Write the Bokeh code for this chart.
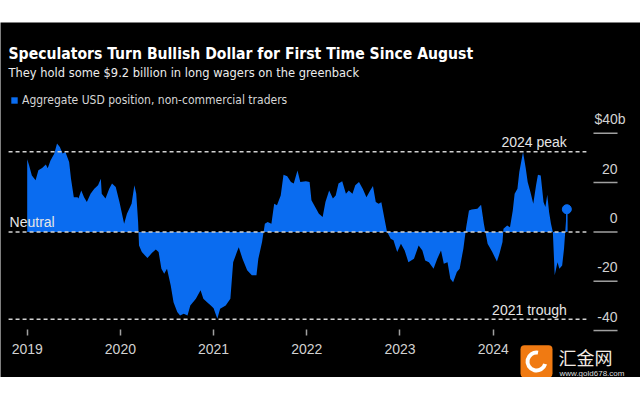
from bokeh.plotting import figure
from bokeh.models import (Range1d, Label, FixedTicker, BoxAnnotation, Spacer,
                          Legend, LegendItem)
from bokeh.layouts import column
from bokeh.core.properties import value
from bokeh.embed import file_html
from bokeh.resources import INLINE

# ---------------- data ----------------
dates = [
    2019.00, 2019.02, 2019.05, 2019.09, 2019.12, 2019.16, 2019.20, 2019.22, 2019.25, 2019.29,
    2019.32, 2019.35, 2019.38, 2019.41, 2019.45, 2019.47, 2019.50, 2019.54, 2019.55, 2019.58,
    2019.61, 2019.64, 2019.68, 2019.72, 2019.76, 2019.79, 2019.80, 2019.84, 2019.88, 2019.91,
    2019.95, 2019.99, 2020.04, 2020.07, 2020.12, 2020.15, 2020.17, 2020.19, 2020.20, 2020.23,
    2020.29, 2020.34, 2020.38, 2020.41, 2020.44, 2020.47, 2020.50, 2020.54, 2020.57, 2020.61,
    2020.64, 2020.68, 2020.72, 2020.75, 2020.81, 2020.86, 2020.89, 2020.93, 2020.97, 2021.00,
    2021.04, 2021.07, 2021.13, 2021.18, 2021.21, 2021.25, 2021.27, 2021.31, 2021.36, 2021.41,
    2021.46, 2021.48, 2021.52, 2021.55, 2021.58, 2021.62, 2021.65, 2021.68, 2021.72, 2021.75,
    2021.79, 2021.83, 2021.86, 2021.90, 2021.93, 2021.99, 2022.03, 2022.05, 2022.09, 2022.13,
    2022.17, 2022.20, 2022.24, 2022.28, 2022.31, 2022.34, 2022.38, 2022.42, 2022.45, 2022.49,
    2022.52, 2022.56, 2022.60, 2022.64, 2022.68, 2022.71, 2022.74, 2022.77, 2022.80, 2022.83,
    2022.86, 2022.90, 2022.93, 2022.97, 2023.01, 2023.05, 2023.09, 2023.15, 2023.20, 2023.24,
    2023.27, 2023.31, 2023.36, 2023.40, 2023.44, 2023.47, 2023.51, 2023.54, 2023.57, 2023.61,
    2023.64, 2023.68, 2023.71, 2023.74, 2023.77, 2023.83, 2023.87, 2023.90, 2023.94, 2023.99,
    2024.04, 2024.07, 2024.10, 2024.11, 2024.15, 2024.18, 2024.21, 2024.23, 2024.26, 2024.28,
    2024.32, 2024.35, 2024.37, 2024.40, 2024.43, 2024.46, 2024.48, 2024.51, 2024.54, 2024.56,
    2024.58, 2024.60, 2024.62, 2024.64, 2024.66, 2024.69, 2024.71, 2024.74, 2024.76, 2024.79,
]
usd_position = [
    29.5, 27.0, 22.9, 20.9, 25.0, 25.9, 27.3, 25.8, 29.0, 31.7,
    35.8, 34.4, 31.8, 32.4, 28.3, 21.6, 14.1, 14.1, 13.5, 16.8,
    14.1, 12.1, 15.5, 17.5, 18.9, 21.6, 15.5, 13.5, 17.5, 19.6,
    18.2, 12.1, 3.3, 7.4, 11.4, 18.9, 15.5, 4.0, -5.5, -8.2,
    -10.6, -8.5, -7.1, -8.2, -14.9, -17.0, -14.9, -21.7, -28.5, -32.5,
    -33.9, -33.2, -33.9, -29.8, -27.1, -23.7, -27.1, -28.5, -29.8, -31.0,
    -35.2, -31.2, -29.8, -27.1, -12.3, -8.2, -6.2, -10.9, -15.6, -17.6,
    -17.6, -10.9, -4.1, 3.3, 4.0, 3.3, 11.4, 10.8, 14.8, 23.2,
    22.6, 20.2, 19.6, 24.9, 20.2, 20.5, 20.2, 12.8, 10.1, 7.4,
    6.0, 12.1, 16.8, 13.5, 14.8, 19.6, 20.5, 15.5, 16.8, 15.5,
    18.9, 20.2, 17.5, 14.1, 16.8, 18.6, 12.1, 11.4, 12.0, 6.0,
    0.2, -2.8, -3.4, -8.2, -4.8, -7.5, -12.3, -10.9, -5.5, -7.5,
    -11.6, -12.3, -14.9, -10.9, -7.5, -12.9, -12.3, -19.0, -20.4, -16.3,
    -14.9, -6.8, 1.9, 8.7, 9.1, 9.4, 11.0, 3.3, -4.8, -8.2,
    -12.0, -8.5, -4.1, 1.3, 2.6, 1.9, 8.7, 15.5, 17.5, 24.3,
    32.4, 25.6, 20.2, 16.1, 11.4, 18.9, 23.2, 22.9, 12.1, 10.1,
    15.1, 8.0, 3.3, 0.0, -17.6, -12.3, -14.9, -13.6, -6.8, 9.2,
]
latest_date = [2024.79]
latest_value = [9.2]

ref_levels = [0, 32.5, -35.4]
ref_labels = ["Neutral", "2024 peak", "2021 trough"]

x_ticks = [2019, 2020, 2021, 2022, 2023, 2024]
x_tick_labels = ["2019", "2020", "2021", "2022", "2023", "2024"]
y_ticks = [40, 20, 0, -20, -40]
y_tick_labels = ["$40b", "20", "0", "-20", "-40"]

TITLE = "Speculators Turn Bullish Dollar for First Time Since August"
SUBTITLE = "They hold some $9.2 billion in long wagers on the greenback"
SERIES = "Aggregate USD position, non-commercial traders"

# ---------------- layout / style ----------------
BLUE = "#0a6cf0"
GREY = "#d2d2d2"
X_START, X_END = 2018.7135, 2025.5805      # canvas edges
Y_START, Y_END = -59.04, 84.91
AXIS_Y = -42.0                              # where the time axis sits
REF_X0 = 2018.80                            # dashed lines start
REF_X1 = 2025.0                             # dashed lines end
TICK_X0, TICK_X1 = 2025.076, 2025.334       # right-hand value ticks
LOGO_X, LOGO_Y = 2024.4646, -52.55          # watermark icon centre

p = figure(width=640, height=355, output_backend="svg", toolbar_location=None,
           x_range=Range1d(X_START, X_END), y_range=Range1d(Y_START, Y_END),
           y_axis_location=None,
           min_border_left=0, min_border_right=0, min_border_top=0, min_border_bottom=0)
p.background_fill_color = "black"
p.border_fill_color = "black"
p.outline_line_color = None
p.xgrid.visible = False
p.ygrid.visible = False

area = p.varea(x=dates, y1=0, y2=usd_position, fill_color=BLUE)

# reference lines
p.segment(x0=[REF_X0] * len(ref_levels), x1=[REF_X1] * len(ref_levels),
          y0=ref_levels, y1=ref_levels, line_color=GREY, line_width=1.5, line_dash="4 3")
# value ticks (right side)
p.segment(x0=[TICK_X0] * len(y_ticks), x1=[TICK_X1] * len(y_ticks),
          y0=y_ticks, y1=y_ticks, line_color="#a0a0a0", line_width=1.5)
p.text(x=[TICK_X1] * 4, y=y_ticks[1:], text=y_tick_labels[1:], text_align="right",
       text_baseline="alphabetic", y_offset=-14, text_color=GREY,
       text_font=value("Liberation Sans"), text_font_size="14px")
p.text(x=[TICK_X1], y=y_ticks[:1], text=y_tick_labels[:1], text_align="right",
       text_baseline="alphabetic", y_offset=-14, x_offset=8, text_color=GREY,
       text_font=value("Liberation Sans"), text_font_size="14px")

# latest point
p.segment(x0=latest_date, x1=latest_date, y0=[0], y1=latest_value, line_color=BLUE, line_width=1.5)
p.scatter(x=latest_date, y=latest_value, size=9, fill_color=BLUE, line_color=BLUE)

# reference labels
p.text(x=[REF_X0], y=ref_levels[:1], text=ref_labels[:1], text_align="left",
       text_baseline="alphabetic", x_offset=1, y_offset=-10, text_color="#e6e6e6",
       text_font=value("Liberation Sans"), text_font_size="14px")
p.text(x=latest_date * 2, y=ref_levels[1:], text=ref_labels[1:], text_align="right",
       text_baseline="alphabetic", y_offset=-9.5, text_color="#e6e6e6",
       text_font=value("Liberation Sans"), text_font_size="14px")

# time axis, drawn inside the canvas at a fixed location
xa = p.xaxis[0]
xa.fixed_location = AXIS_Y
xa.ticker = FixedTicker(ticks=x_ticks)
xa.major_label_overrides = dict(zip(x_ticks, x_tick_labels))
xa.axis_line_color = None
xa.major_tick_in = 6
xa.major_tick_out = 0
xa.major_tick_line_color = "#a0a0a0"
xa.major_tick_line_width = 1.5
xa.minor_tick_line_color = None
xa.major_label_text_color = GREY
xa.major_label_text_font = "Liberation Sans"
xa.major_label_text_font_size = "14px"
xa.major_label_standoff = 9

# titles
p.add_layout(Label(x=8, y=324, x_units="screen", y_units="screen", text=TITLE,
                   text_color="white", text_font="DejaVu Sans Condensed",
                   text_font_style="bold", text_font_size="15.6px", text_baseline="alphabetic"))
p.add_layout(Label(x=8, y=305.5, x_units="screen", y_units="screen", text=SUBTITLE,
                   text_color="#ececec", text_font="DejaVu Sans Condensed",
                   text_font_size="12.75px", text_baseline="alphabetic"))

legend = Legend(items=[LegendItem(label=SERIES, renderers=[area])], location=(10, 270.5),
                orientation="horizontal", padding=0, margin=0, spacing=0,
                glyph_width=8, glyph_height=8, label_height=14, label_standoff=4,
                label_text_font="DejaVu Sans Condensed", label_text_font_size="12px",
                label_text_color="#d6d6d6", background_fill_alpha=0, border_line_color=None)
p.add_layout(legend)

# watermark
p.add_layout(BoxAnnotation(left=520, right=552, top=32.3, bottom=0, left_units="screen",
                           right_units="screen", top_units="screen", bottom_units="screen",
                           fill_color="#f07a12", fill_alpha=1, line_color=None, border_radius=4))
p.annular_wedge(x=[LOGO_X], y=[LOGO_Y], inner_radius=7, outer_radius=11,
                inner_radius_units="screen", outer_radius_units="screen",
                start_angle=1.4, end_angle=6.0, fill_color="white", line_color=None,
                level="overlay")
p.add_layout(Label(x=558, y=21, x_units="screen", y_units="screen", text="汇金网",
                   text_color="#f2ebe4", text_font="Noto Sans CJK SC",
                   text_font_size="18px", text_baseline="middle"))
p.add_layout(Label(x=559, y=4.5, x_units="screen", y_units="screen", text="www.gold678.com",
                   text_color="#dddddd", text_font="Liberation Sans", text_font_size="8px",
                   text_baseline="middle"))

layout = column(Spacer(width=640, height=22), p)
open("out.html", "w").write(file_html(layout, INLINE))
